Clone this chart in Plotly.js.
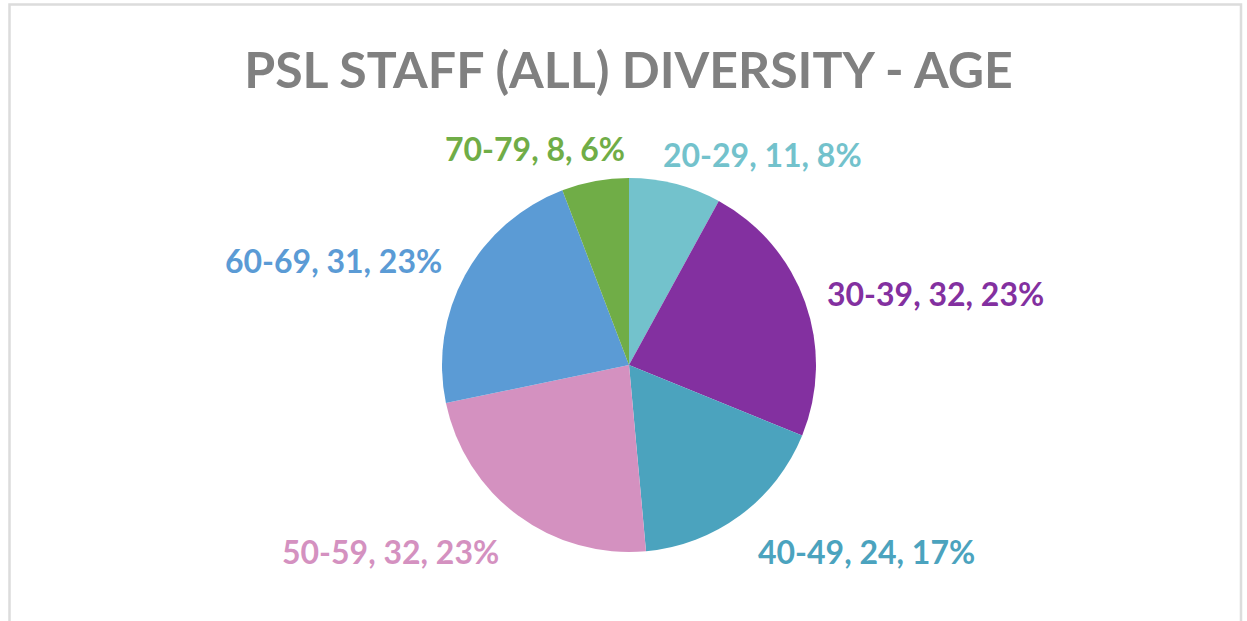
<!DOCTYPE html>
<html>
<head>
<meta charset="utf-8">
<script src="https://cdn.plot.ly/plotly-3.0.1.min.js"></script>
<style>html,body{margin:0;padding:0;background:#fff;}#chart{width:1247px;height:621px;}</style>
</head>
<body>
<div id="chart"></div>
<script>
// Data
const ageGroups = ["20-29", "30-39", "40-49", "50-59", "60-69", "70-79"];
const staffCounts = [11, 32, 24, 32, 31, 8];
const percentLabels = ["8%", "23%", "17%", "23%", "23%", "6%"];
const chartTitle = "PSL STAFF (ALL) DIVERSITY - AGE";

// Styles / positions (layout only)
const sliceColors = ["#73C2CC", "#8330A0", "#4BA3BE", "#D491C0", "#5B9BD5", "#70AD47"];
const W = 1247, H = 621;
const labelPos = [[762, 154], [935, 293], [866, 551], [390, 551], [333, 260], [535, 149]];

const cx = 629, cy = 365, r = 187;

const trace = {
  type: "pie",
  labels: ageGroups,
  values: staffCounts,
  sort: false,
  direction: "clockwise",
  rotation: 0,
  textinfo: "none",
  hoverinfo: "label+value",
  marker: { colors: sliceColors, line: { width: 0 } },
  domain: { x: [(cx - r) / W, (cx + r) / W], y: [(H - cy - r) / H, (H - cy + r) / H] },
  showlegend: false
};

const annotations = ageGroups.map((g, i) => ({
  xref: "paper", yref: "paper",
  x: labelPos[i][0] / W, y: 1 - labelPos[i][1] / H,
  xanchor: "center", yanchor: "middle",
  showarrow: false,
  text: "<b>" + g + ", " + staffCounts[i] + ", " + percentLabels[i] + "</b>",
  font: { family: "Lato, 'Open Sans', sans-serif", size: 32, color: sliceColors[i] }
}));

const layout = {
  width: W, height: H,
  margin: { l: 0, r: 0, t: 0, b: 0 },
  paper_bgcolor: "#ffffff",
  title: {
    text: "<b>" + chartTitle + "</b>",
    x: 0.504, xanchor: "center",
    y: 1 - 70 / H, yanchor: "middle",
    font: { family: "Lato, 'Open Sans', sans-serif", size: 50, color: "#808080" }
  },
  annotations: annotations,
  shapes: [{
    type: "rect", xref: "paper", yref: "paper",
    x0: 9.5 / W, x1: 1241 / W, y0: -0.05, y1: 1 - 4.5 / H,
    line: { color: "#dcdcdc", width: 2.5 }, fillcolor: "rgba(0,0,0,0)"
  }]
};

Plotly.newPlot("chart", [trace], layout, { displayModeBar: false, staticPlot: true });
</script>
</body>
</html>
